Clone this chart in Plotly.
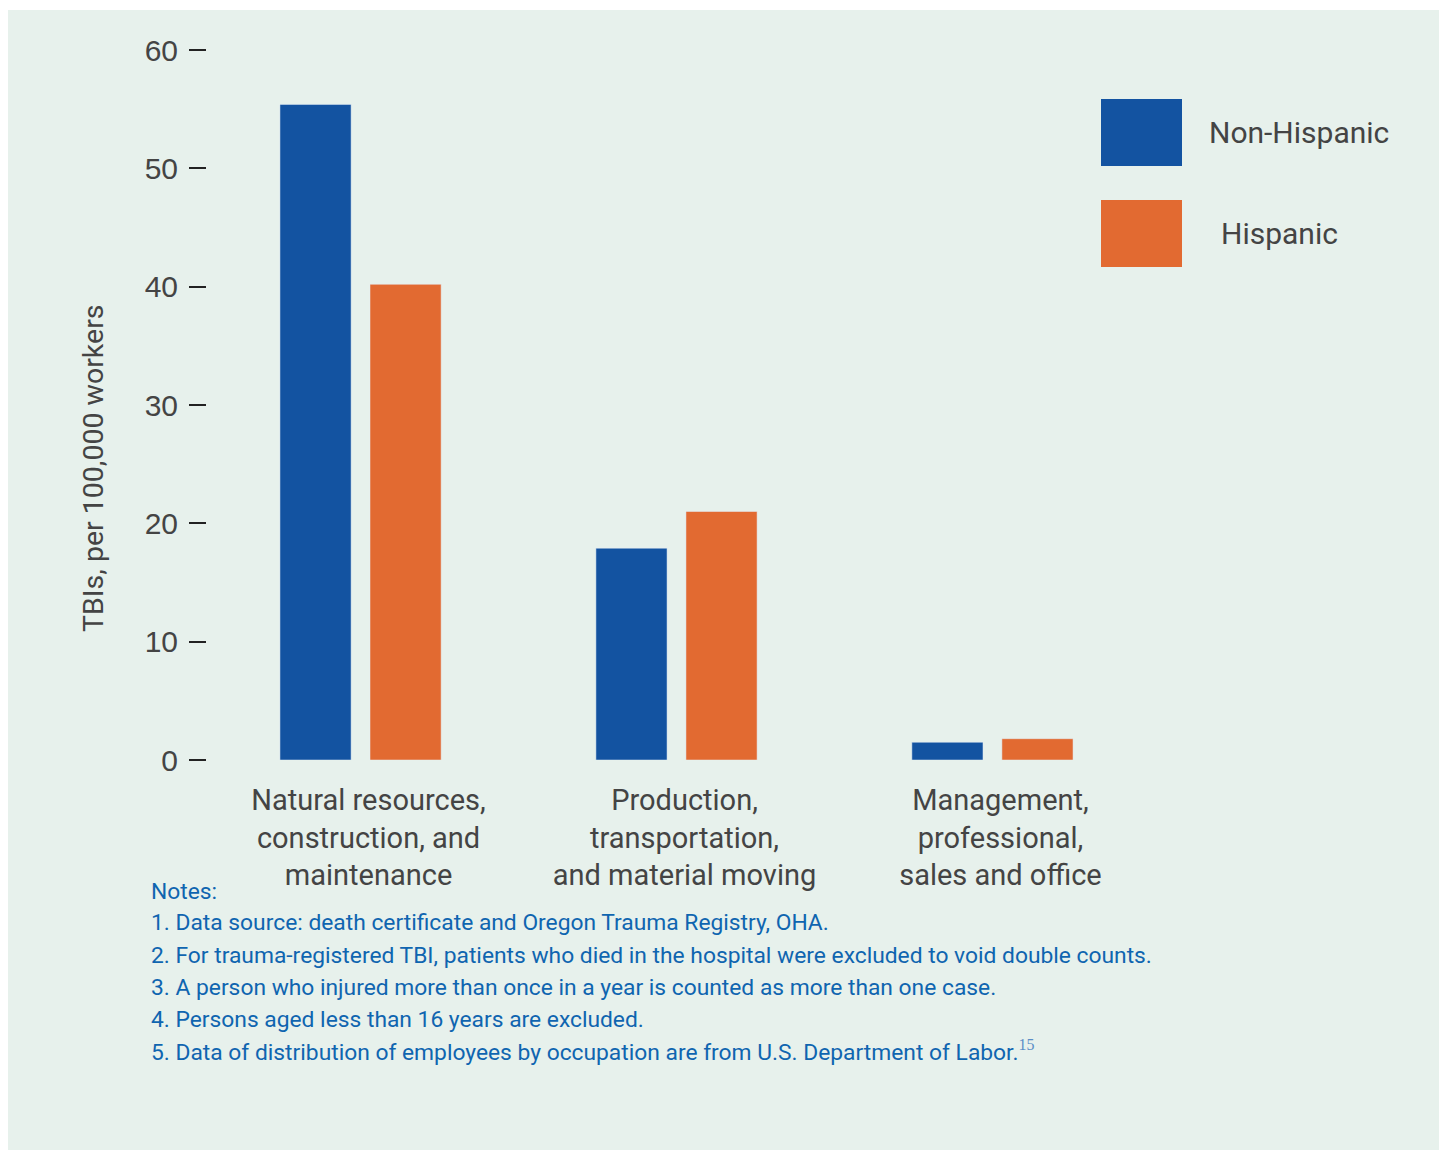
import plotly.graph_objects as go

categories = ["Natural resources,<br>construction, and<br>maintenance",
              "Production,<br>transportation,<br>and material moving",
              "Management,<br>professional,<br>sales and office"]
non_hispanic = [55.4, 17.9, 1.5]
hispanic = [40.2, 21.0, 1.8]
series_names = ["Non-Hispanic", "Hispanic"]
y_ticks = [0, 10, 20, 30, 40, 50, 60]
notes = ["Notes:",
         "1. Data source: death certificate and Oregon Trauma Registry, OHA.",
         "2. For trauma-registered TBI, patients who died in the hospital were excluded to void double counts.",
         "3. A person who injured more than once in a year is counted as more than one case.",
         "4. Persons aged less than 16 years are excluded.",
         "5. Data of distribution of employees by occupation are from U.S. Department of Labor."]

BLUE = "#1353A1"
ORANGE = "#E26A31"
BG = "#E7F1EC"
GRAY = "#444444"
NOTE_BLUE = "#0F65B0"
NARROW = "Liberation Sans Narrow, Roboto, sans-serif"

OFF = 8  # page body margin
W, H = 1447 - OFF, 1158 - 2 * OFF
L, T = 207 - OFF, 50 - OFF
R = W - (1146 - OFF)
B = H - (760 - OFF)
PW, PH = W - L - R, H - T - B

def px(x):
    return (x - OFF - L) / PW

def py(y):
    return (H - B - (y - OFF)) / PH

fig = go.Figure()
fig.add_bar(x=categories, y=non_hispanic, name=series_names[0], marker_color=BLUE, showlegend=False)
fig.add_bar(x=categories, y=hispanic, name=series_names[1], marker_color=ORANGE, showlegend=False)

shapes = [
    dict(type="rect", xref="paper", yref="paper", x0=px(0), x1=px(1460), y0=py(1170), y1=py(10),
         fillcolor=BG, line_width=0, layer="below"),
    dict(type="rect", xref="paper", yref="paper", x0=px(1101), x1=px(1182), y0=py(166), y1=py(99),
         fillcolor=BLUE, line_width=0),
    dict(type="rect", xref="paper", yref="paper", x0=px(1101), x1=px(1182), y0=py(267), y1=py(200),
         fillcolor=ORANGE, line_width=0),
]

annotations = [
    dict(text=series_names[0], xref="paper", yref="paper", x=px(1207), y=py(133), xanchor="left",
         yanchor="middle", showarrow=False, font=dict(family=NARROW, size=30, color=GRAY)),
    dict(text=series_names[1], xref="paper", yref="paper", x=px(1219), y=py(233), xanchor="left",
         yanchor="middle", showarrow=False, font=dict(family=NARROW, size=30, color=GRAY)),
    dict(text="TBIs, per 100,000 workers", xref="paper", yref="paper", x=px(93), y=py(468),
         xanchor="center", yanchor="middle", textangle=-90, showarrow=False,
         font=dict(family=NARROW, size=28.5, color=GRAY)),
]
for i, line in enumerate(notes):
    txt = line
    if i == len(notes) - 1:
        txt = line + "<span style='font-family:Liberation Serif;color:#5B8EC6'><sup>15</sup></span>"
    annotations.append(dict(text=txt, xref="paper", yref="paper", x=px(149), y=py(891 + 32 * i),
                            xanchor="left", yanchor="middle", showarrow=False,
                            font=dict(family=NARROW, size=22.8, color=NOTE_BLUE)))

fig.update_layout(
    width=W, height=H,
    margin=dict(l=L, r=R, t=T, b=B, pad=0),
    paper_bgcolor="white", plot_bgcolor="rgba(0,0,0,0)",
    barmode="group", bargap=0.43, bargroupgap=0.21,
    shapes=shapes, annotations=annotations,
    xaxis=dict(range=[-0.486, 2.486], showline=False, showgrid=False, zeroline=False, ticks="",
               tickfont=dict(family=NARROW, size=29, color=GRAY), ticklabelstandoff=20,
               ticklabelshift=8),
    yaxis=dict(range=[0, 60], tickvals=y_ticks, showgrid=False, zeroline=False, showline=False,
               ticks="outside", ticklen=17, tickwidth=2, tickcolor="#222222",
               tickfont=dict(family="Liberation Sans, Arial, sans-serif", size=30, color=GRAY),
               ticklabelstandoff=5),
)

fig.write_html("out.html")
